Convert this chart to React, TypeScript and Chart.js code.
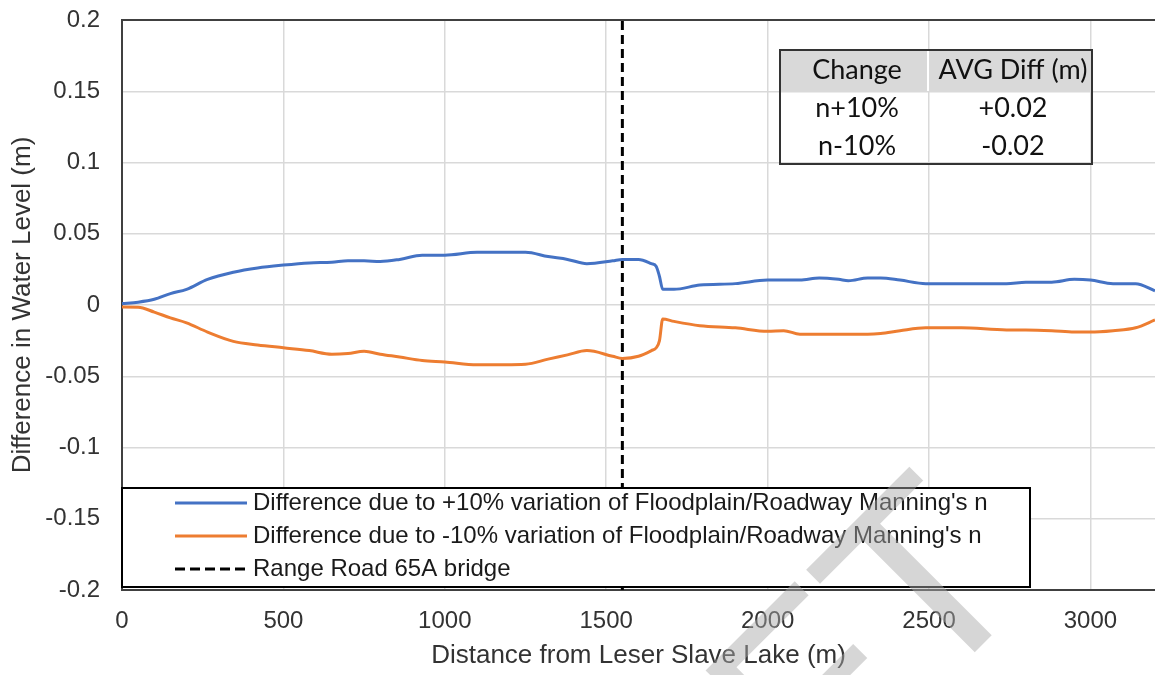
import React, { useEffect, useRef } from "react";
import { Chart, registerables } from "chart.js";

Chart.register(...registerables);

// Distance along the channel (m)
const distance = [
  0, 50, 100, 150, 200, 265, 345, 420, 500, 580, 650, 700, 750, 800, 860, 930,
  1000, 1100, 1250, 1320, 1380, 1440, 1520, 1550, 1600, 1640, 1655, 1665, 1675,
  1710, 1790, 1900, 2000, 2050, 2100, 2160, 2220, 2250, 2310, 2350, 2410, 2490,
  2600, 2740, 2800, 2880, 2950, 3000, 3070, 3140, 3200,
];

// Water level difference for +10% Manning's n (m)
const plusTenPct = [
  0.001, 0.002, 0.004, 0.008, 0.011, 0.018, 0.023, 0.026, 0.028, 0.0295, 0.03,
  0.031, 0.031, 0.0305, 0.032, 0.035, 0.035, 0.037, 0.037, 0.034, 0.032, 0.029,
  0.031, 0.032, 0.032, 0.029, 0.027, 0.02, 0.011, 0.011, 0.014, 0.015, 0.0175,
  0.0175, 0.0175, 0.019, 0.018, 0.017, 0.019, 0.019, 0.0175, 0.015, 0.015,
  0.015, 0.016, 0.016, 0.018, 0.0175, 0.015, 0.015, 0.01,
];

// Water level difference for -10% Manning's n (m)
const minusTenPct = [
  -0.0014, -0.0015, -0.005, -0.009, -0.0125, -0.019, -0.0255, -0.028, -0.03,
  -0.032, -0.0345, -0.034, -0.0325, -0.0345, -0.0365, -0.039, -0.04, -0.042,
  -0.0415, -0.038, -0.035, -0.032, -0.036, -0.0375, -0.036, -0.032, -0.03,
  -0.025, -0.0098, -0.0115, -0.0145, -0.016, -0.0185, -0.018, -0.0205, -0.0205,
  -0.0205, -0.0205, -0.0205, -0.02, -0.018, -0.016, -0.016, -0.0175, -0.0175,
  -0.018, -0.019, -0.019, -0.018, -0.016, -0.0105,
];

const bridgeStation = 1550;

const seriesLabels = [
  "Difference due to +10% variation of Floodplain/Roadway Manning's n",
  "Difference due to -10% variation of Floodplain/Roadway Manning's n",
  "Range Road 65A bridge",
];

const xTickValues = [0, 500, 1000, 1500, 2000, 2500, 3000];
const yTickValues = [-0.2, -0.15, -0.1, -0.05, 0, 0.05, 0.1, 0.15, 0.2];

const tableHeader = ["Change", "AVG Diff (m)"];
const tableRows = [
  ["n+10%", "+0.02"],
  ["n-10%", "-0.02"],
];

const watermarkText = "DRAFT";

const SANS = "'Liberation Sans', Arial, sans-serif";

const overlayPlugin = {
  id: "overlay",
  beforeDatasetsDraw(chart: any) {
    const { ctx, chartArea: a } = chart;
    ctx.save();
    ctx.strokeStyle = "#404040";
    ctx.lineWidth = 2;
    ctx.beginPath();
    ctx.moveTo(a.left, a.top);
    ctx.lineTo(a.right, a.top);
    ctx.stroke();
    ctx.restore();
  },
  afterDatasetsDraw(chart: any) {
    const { ctx, chartArea: a } = chart;
    ctx.save();

    // Legend box in the lower part of the plot
    const lx = a.left, ly = 488, lw = 908, lh = 99;
    ctx.fillStyle = "#ffffff";
    ctx.fillRect(lx, ly, lw, lh);
    ctx.strokeStyle = "#000000";
    ctx.lineWidth = 2;
    ctx.strokeRect(lx, ly, lw, lh);
    chart.data.datasets.forEach((ds: any, i: number) => {
      const cy = 503 + i * 33;
      ctx.beginPath();
      ctx.setLineDash(ds.borderDash ? [10, 5] : []);
      ctx.strokeStyle = ds.borderColor;
      ctx.lineWidth = 3;
      ctx.moveTo(175, cy);
      ctx.lineTo(247, cy);
      ctx.stroke();
      ctx.setLineDash([]);
      ctx.fillStyle = "#1a1a1a";
      ctx.font = `24px ${SANS}`;
      ctx.textAlign = "left";
      ctx.textBaseline = "middle";
      ctx.fillText(ds.label, 253, cy);
    });

    // Summary table in the upper right
    const tx = 780, tr = 1092, tt = 50, hb = 91, tb = 164, colX = 928;
    ctx.fillStyle = "#d9d9d9";
    ctx.fillRect(tx, tt, tr - tx, hb - tt);
    ctx.strokeStyle = "#ffffff";
    ctx.lineWidth = 2;
    ctx.beginPath();
    ctx.moveTo(colX, tt);
    ctx.lineTo(colX, hb);
    ctx.stroke();
    ctx.strokeStyle = "#333333";
    ctx.lineWidth = 2;
    ctx.strokeRect(tx, tt, tr - tx, tb - tt);

    ctx.fillStyle = "#111111";
    ctx.font = "27px Lato, 'Open Sans', sans-serif";
    ctx.textAlign = "center";
    ctx.textBaseline = "middle";
    const c1 = 857, c2 = 1013;
    ctx.fillText(tableHeader[0], c1, 70);
    ctx.fillText(tableHeader[1], c2, 70);
    tableRows.forEach((row, i) => {
      const cy = 108 + i * 38;
      ctx.fillText(row[0], c1, cy);
      ctx.fillText(row[1], c2, cy);
    });
    ctx.restore();
  },
  afterDraw(chart: any) {
    const { ctx } = chart;
    ctx.save();
    ctx.translate(1039, 588);
    ctx.rotate(-Math.PI / 4);
    ctx.font = `258px ${SANS}`;
    ctx.textAlign = "right";
    ctx.textBaseline = "alphabetic";
    ctx.fillStyle = "rgba(170,170,170,0.48)";
    ctx.fillText(watermarkText, 0, 0);
    ctx.restore();
  },
};

export default function App() {
  const canvasRef = useRef<HTMLCanvasElement | null>(null);

  useEffect(() => {
    if (!canvasRef.current) return;
    Chart.defaults.font.family = SANS;

    const chart = new Chart(canvasRef.current, {
      type: "line",
      data: {
        datasets: [
          {
            label: seriesLabels[0],
            data: distance.map((x, i) => ({ x, y: plusTenPct[i] })),
            borderColor: "#4472C4",
            backgroundColor: "#4472C4",
            borderWidth: 3,
            pointRadius: 0,
            cubicInterpolationMode: "monotone",
          },
          {
            label: seriesLabels[1],
            data: distance.map((x, i) => ({ x, y: minusTenPct[i] })),
            borderColor: "#ED7D31",
            backgroundColor: "#ED7D31",
            borderWidth: 3,
            pointRadius: 0,
            cubicInterpolationMode: "monotone",
          },
          {
            label: seriesLabels[2],
            data: [
              { x: bridgeStation, y: yTickValues[0] },
              { x: bridgeStation, y: yTickValues[yTickValues.length - 1] },
            ],
            borderColor: "#000000",
            backgroundColor: "#000000",
            borderWidth: 3,
            borderDash: [9, 5],
            pointRadius: 0,
          },
        ],
      },
      options: {
        responsive: false,
        animation: false,
        layout: { padding: { top: 20, right: 0, left: 0, bottom: 0 } },
        plugins: {
          legend: { display: false },
          tooltip: { enabled: false },
        },
        scales: {
          x: {
            type: "linear",
            min: 0,
            max: 3200,
            afterFit: (scale: any) => {
              scale.height = 85;
              scale.paddingLeft = 0;
              scale.paddingRight = 0;
            },
            afterBuildTicks: (scale: any) => {
              scale.ticks = xTickValues.map((v) => ({ value: v }));
            },
            ticks: {
              padding: 17,
              color: "#333333",
              font: { size: 24 },
              includeBounds: false,
              maxRotation: 0,
              callback: (v: any) => String(v),
            },
            grid: { color: "#d9d9d9", lineWidth: 1.5, drawTicks: false },
            border: { display: true, color: "#404040", width: 2 },
            title: {
              display: true,
              text: "Distance from Leser Slave Lake (m)",
              color: "#333333",
              font: { size: 26 },
              padding: { top: 0, bottom: 4 },
            },
          },
          y: {
            type: "linear",
            min: -0.2,
            max: 0.2,
            afterFit: (scale: any) => {
              scale.width = 122;
              scale.paddingTop = 0;
              scale.paddingBottom = 0;
            },
            afterBuildTicks: (scale: any) => {
              scale.ticks = yTickValues.map((v) => ({ value: v }));
            },
            ticks: {
              padding: 22,
              color: "#333333",
              font: { size: 24 },
              callback: (v: any) => String(Number(Number(v).toFixed(2))),
            },
            grid: { color: "#d9d9d9", lineWidth: 1.5, drawTicks: false },
            border: { display: true, color: "#404040", width: 2 },
            title: {
              display: true,
              text: "Difference in Water Level (m)",
              color: "#333333",
              font: { size: 26 },
              padding: { top: 7, bottom: 0 },
            },
          },
        },
      },
      plugins: [overlayPlugin],
    });

    return () => chart.destroy();
  }, []);

  return (
    <div
      style={{
        position: "fixed",
        left: 0,
        top: 0,
        width: 1155,
        height: 675,
        background: "#ffffff",
        overflow: "hidden",
      }}
    >
      <canvas ref={canvasRef} width={1155} height={675} style={{ display: "block" }} />
    </div>
  );
}
